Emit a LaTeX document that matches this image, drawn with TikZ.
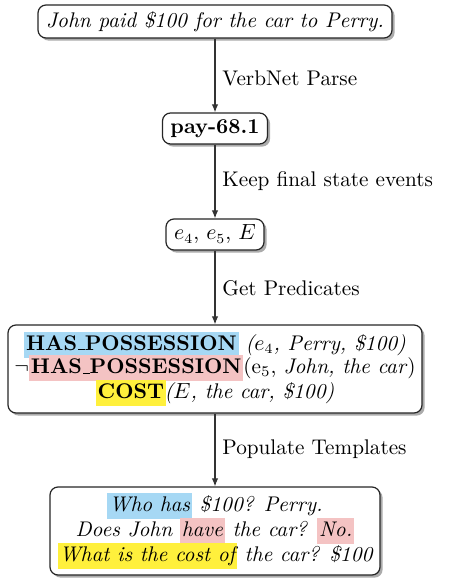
\documentclass[tikz,border=0pt]{standalone}
\usetikzlibrary{shadows,arrows.meta}
\definecolor{hlblue}{HTML}{A6D8F4}
\definecolor{hlpink}{HTML}{F4C3C3}
\definecolor{hlyellow}{HTML}{FFF03C}
\newcommand{\hlbox}[2]{{\setlength{\fboxsep}{0pt}\colorbox{#1}{\vrule height 9.1pt depth 3.9pt width 0pt\kern1pt #2\kern1pt}}}
\newcommand{\usc}{\leavevmode\kern.06em\vbox{\hrule width.3em height 0.5pt}}
\tikzset{
  stepbox/.style={draw=black!85, rounded corners=4pt, fill=white, line width=0.6pt,
    drop shadow={shadow xshift=1.3pt, shadow yshift=-1.3pt, fill=black!55, opacity=0.6},
    inner sep=0pt, align=center},
  conn/.style={draw=black!80, line width=0.55pt, -{Latex[length=4pt,width=3.2pt]}},
  lbl/.style={anchor=west, inner sep=0pt}
}
\begin{document}
\begin{tikzpicture}[x=0.5pt,y=-0.5pt,font=\fontsize{10.6}{13}\selectfont]
\useasboundingbox (0,0) rectangle (451,587);
\node[stepbox, minimum width=177pt, minimum height=16.5pt] (s) at (215,21.5)
  {\textit{John paid \$100 for the car to Perry.}};
\node[stepbox, minimum width=52.5pt, minimum height=15.5pt] (p) at (215,128.5)
  {\textbf{pay-68.1}};
\node[stepbox, minimum width=49pt, minimum height=15.5pt] (e) at (215,234.5)
  {$e_4$, $e_5$, $E$};
\node[stepbox, minimum width=207pt, minimum height=44pt] (pr) at (215,369)
  {\hlbox{hlblue}{\textbf{HAS\usc POSSESSION}} \textit{($e_4$, Perry, \$100)}\\[-1.2pt]
   $\neg$\hlbox{hlpink}{\textbf{HAS\usc POSSESSION}}(e\textsubscript{5}, \textit{John, the car})\\[-0.6pt]
   \hlbox{hlyellow}{\textbf{COST}}\kern-0.8pt\textit{($E$, the car, \$100)}};
\node[stepbox, minimum width=165pt, minimum height=44pt] (q) at (215,531)
  {\itshape \hlbox{hlblue}{Who has} \$100? Perry.\\[-0.6pt]
   \itshape Does John \hlbox{hlpink}{have} the car? \hlbox{hlpink}{No.}\\[-0.6pt]
   \itshape \hlbox{hlyellow}{What is the cost of} the car? \$100};
\draw[conn] (s) -- (p);
\draw[conn] (p) -- (e);
\draw[conn] (e) -- (pr);
\draw[conn] (pr) -- (q);
\node[lbl] (l1) at (222,78) {VerbNet Parse};
\node[lbl] (l2) at (222,181) {Keep final state events};
\node[lbl] (l3) at (222,288) {Get Predicates};
\node[lbl] (l4) at (222,449) {Populate Templates};
\end{tikzpicture}
\end{document}
